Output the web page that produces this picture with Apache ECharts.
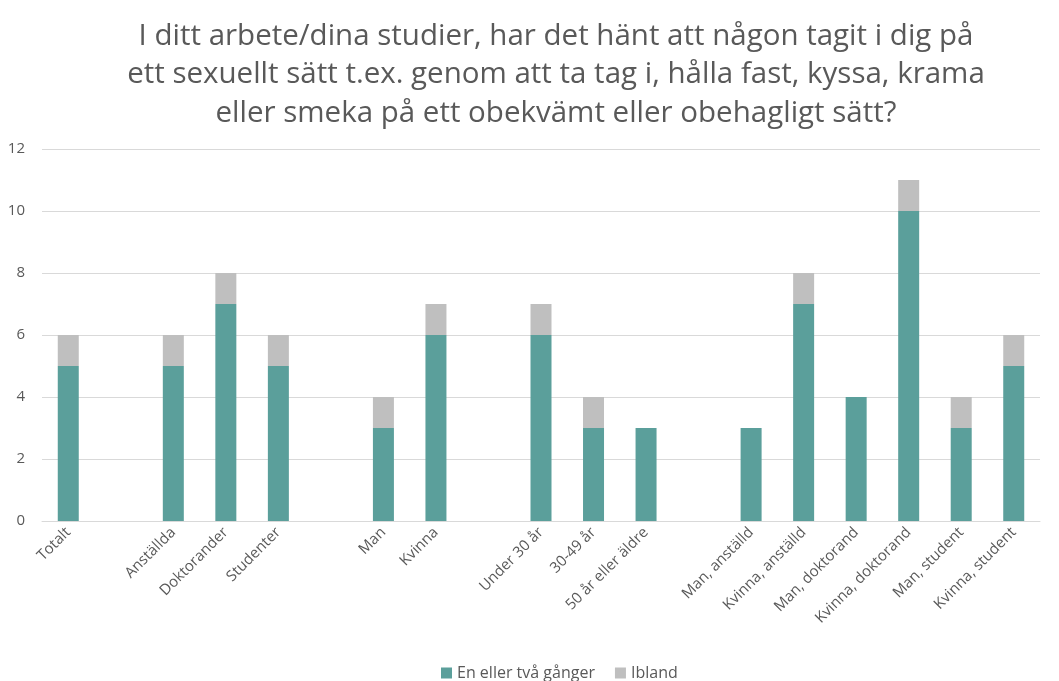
<!DOCTYPE html>
<html><head><meta charset="utf-8">
<script src="https://cdn.jsdelivr.net/npm/echarts@6/dist/echarts.min.js"></script>
<style>html,body{margin:0;padding:0;background:#fff}#c{width:1059px;height:681px}</style>
</head><body><div id="c"></div>
<script>
const categories = ['Totalt','','Anställda','Doktorander','Studenter','','Man','Kvinna','','Under 30 år','30-49 år','50 år eller äldre','','Man, anställd','Kvinna, anställd','Man, doktorand','Kvinna, doktorand','Man, student','Kvinna, student'];
const enEllerTva = [5,'-',5,7,5,'-',3,6,'-',6,3,3,'-',3,7,4,10,3,5];
const ibland = [1,'-',1,1,1,'-',1,1,'-',1,1,0,'-',0,1,0,1,1,1];
const yTicks = [0,2,4,6,8,10,12];
const FONT = 'Open Sans';
const chart = echarts.init(document.getElementById('c'));
chart.setOption({
  animation:false,
  textStyle:{fontFamily:FONT},
  title:{text:'I ditt arbete/dina studier, har det hänt att någon tagit i dig på\nett sexuellt sätt t.ex. genom att ta tag i, hålla fast, kyssa, krama\neller smeka på ett obekvämt eller obehagligt sätt?',
    left:551, top:12, textAlign:'center', textStyle:{fontFamily:FONT,fontSize:29.5,fontWeight:'normal',color:'#595959',lineHeight:38.5}},
  legend:{bottom:-5,left:436,itemWidth:11,itemHeight:11,itemGap:20,icon:'rect',
    textStyle:{fontFamily:FONT,fontSize:16,color:'#595959'},data:['En eller två gånger','Ibland']},
  grid:{left:42,right:19,top:149,bottom:160,containLabel:false},
  xAxis:{type:'category',data:categories,
    axisLine:{lineStyle:{color:'#D9D9D9'}},axisTick:{show:false},
    axisLabel:{interval:0,rotate:45,fontFamily:FONT,fontSize:15,color:'#595959',margin:9}},
  yAxis:{type:'value',min:0,max:12,interval:2,
    axisLine:{show:false},axisTick:{show:false},
    splitLine:{lineStyle:{color:'#D9D9D9'}},
    axisLabel:{fontFamily:FONT,fontSize:15,color:'#595959',margin:17,
      formatter:v=>yTicks.includes(v)?String(v):''}},
  series:[
    {name:'En eller två gånger',type:'bar',stack:'a',data:enEllerTva,barWidth:21,itemStyle:{color:'#5B9F9B'}},
    {name:'Ibland',type:'bar',stack:'a',data:ibland,barWidth:21,itemStyle:{color:'#BFBFBF'}}
  ]
});
</script></body></html>
